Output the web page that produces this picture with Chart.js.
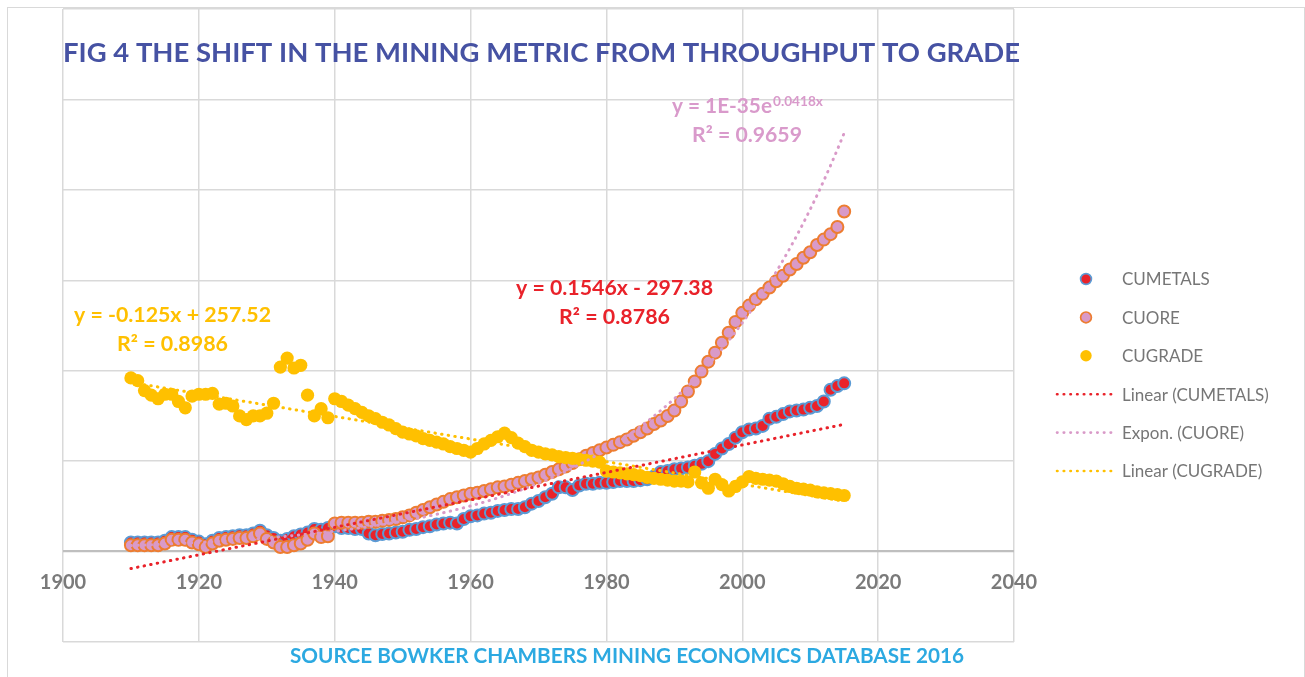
<!DOCTYPE html>
<html>
<head>
<meta charset="utf-8">
<title>Fig 4 - Mining metric shift</title>
<script src="https://cdn.jsdelivr.net/npm/chart.js@4.4.1/dist/chart.umd.min.js"></script>
<style>
    html, body { margin: 0; padding: 0; background: #fff; overflow: hidden; }
    .frame { position: absolute; left: 7px; top: 7px; width: 1296px; height: 700px; border: 1px solid #d9d9d9; }
    #chart { position: absolute; left: 0; top: 0; }
</style>
</head>
<body>
<div class="frame"></div>
<canvas id="chart" width="1305" height="677"></canvas>
<script>
// ============================================
// FIG 4 - copper metal, ore and grade 1910-2015
// ============================================

const years = [
    1910, 1911, 1912, 1913, 1914, 1915, 1916, 1917, 1918, 1919,
    1920, 1921, 1922, 1923, 1924, 1925, 1926, 1927, 1928, 1929,
    1930, 1931, 1932, 1933, 1934, 1935, 1936, 1937, 1938, 1939,
    1940, 1941, 1942, 1943, 1944, 1945, 1946, 1947, 1948, 1949,
    1950, 1951, 1952, 1953, 1954, 1955, 1956, 1957, 1958, 1959,
    1960, 1961, 1962, 1963, 1964, 1965, 1966, 1967, 1968, 1969,
    1970, 1971, 1972, 1973, 1974, 1975, 1976, 1977, 1978, 1979,
    1980, 1981, 1982, 1983, 1984, 1985, 1986, 1987, 1988, 1989,
    1990, 1991, 1992, 1993, 1994, 1995, 1996, 1997, 1998, 1999,
    2000, 2001, 2002, 2003, 2004, 2005, 2006, 2007, 2008, 2009,
    2010, 2011, 2012, 2013, 2014, 2015
];

const cuMetals = [
    1.0, 1.0, 1.0, 1.0, 1.0, 1.2, 1.6, 1.6, 1.6, 1.3,
    1.1, 0.8, 1.2, 1.5, 1.6, 1.7, 1.8, 1.8, 2.0, 2.3,
    1.8, 1.5, 1.2, 1.4, 1.7, 1.9, 2.1, 2.5, 2.4, 2.6,
    2.8, 2.6, 2.6, 2.5, 2.5, 2.0, 1.8, 1.95, 2.0, 2.1,
    2.2, 2.4, 2.5, 2.7, 2.8, 3.0, 3.1, 3.2, 3.1, 3.6,
    3.9, 4.0, 4.2, 4.3, 4.5, 4.6, 4.7, 4.7, 4.9, 5.3,
    5.6, 6.0, 6.4, 7.1, 7.1, 6.8, 7.3, 7.5, 7.5, 7.6,
    7.6, 7.7, 7.8, 7.8, 7.8, 7.9, 8.0, 8.3, 8.8, 8.9,
    9.1, 9.2, 9.3, 9.5, 9.7, 10.0, 10.8, 11.4, 11.9, 12.6,
    13.2, 13.5, 13.6, 13.9, 14.7, 14.9, 15.2, 15.5, 15.6, 15.7,
    15.9, 16.1, 16.6, 17.9, 18.3, 18.6
];

const cuOre = [
    0.7, 0.7, 0.7, 0.7, 0.7, 0.9, 1.3, 1.3, 1.3, 1.0,
    0.8, 0.5, 0.9, 1.2, 1.3, 1.4, 1.5, 1.5, 1.7, 2.0,
    1.4, 1.0, 0.5, 0.5, 0.7, 0.9, 1.3, 2.0, 1.6, 1.7,
    3.1, 3.2, 3.2, 3.2, 3.2, 3.3, 3.3, 3.4, 3.5, 3.6,
    3.8, 4.0, 4.3, 4.6, 4.9, 5.2, 5.5, 5.8, 6.0, 6.2,
    6.4, 6.5, 6.7, 6.9, 7.1, 7.2, 7.4, 7.6, 7.8, 8.0,
    8.2, 8.5, 8.8, 9.1, 9.4, 9.8, 10.2, 10.6, 10.9, 11.2,
    11.5, 11.8, 12.1, 12.4, 12.8, 13.2, 13.6, 14.1, 14.5, 15.0,
    15.6, 16.6, 17.7, 18.8, 19.9, 21.0, 22.0, 23.1, 24.2, 25.4,
    26.4, 27.2, 27.9, 28.5, 29.2, 29.9, 30.5, 31.2, 31.8, 32.5,
    33.1, 33.9, 34.5, 35.1, 35.9, 37.6
];

const cuGrade = [
    19.2, 18.9, 17.8, 17.3, 16.9, 17.4, 17.4, 16.6, 15.9, 17.2,
    17.4, 17.4, 17.5, 16.3, 16.4, 16.1, 15.0, 14.6, 15.0, 15.0,
    15.3, 16.4, 20.4, 21.4, 20.3, 20.6, 17.3, 15.0, 15.8, 14.8,
    16.9, 16.6, 16.2, 15.8, 15.4, 15.0, 14.7, 14.3, 14.0, 13.6,
    13.2, 13.0, 12.8, 12.5, 12.3, 12.1, 11.9, 11.6, 11.4, 11.2,
    11.0, 11.4, 11.9, 12.3, 12.7, 13.1, 12.6, 12.0, 11.6, 11.2,
    11.0, 10.8, 10.7, 10.5, 10.4, 10.3, 10.2, 10.1, 10.0, 9.9,
    8.9, 8.8, 8.7, 8.6, 8.5, 8.4, 8.2, 8.1, 8.0, 7.9,
    7.8, 7.8, 7.7, 8.8, 7.6, 7.0, 8.0, 7.4, 6.7, 7.2,
    7.7, 8.3, 8.1, 8.0, 7.9, 7.8, 7.5, 7.2, 7.0, 6.9,
    6.8, 6.6, 6.5, 6.4, 6.3, 6.2
];

const seriesNames = ['CUMETALS', 'CUORE', 'CUGRADE'];
const trendNames = ['Linear (CUMETALS)', 'Expon. (CUORE)', 'Linear (CUGRADE)'];

const X_MIN = 1900, X_MAX = 2040, X_STEP = 20;
const Y_MIN = -10, Y_MAX = 60, Y_STEP = 10;

const TITLE = 'FIG 4 THE SHIFT IN THE MINING METRIC FROM THROUGHPUT TO GRADE';
const SOURCE = 'SOURCE BOWKER CHAMBERS MINING ECONOMICS DATABASE 2016';

const COLORS = {
    red: '#E9222A',
    blue: '#5B9BD5',
    pink: '#D99AC8',
    orange: '#ED7D31',
    gold: '#FFC000',
    pinkText: '#D99ACB',
    title: '#4652A3',
    source: '#2CA9E1',
    grid: '#D9D9D9',
    zero: '#BFBFBF',
    tick: '#7A7A7A',
    legend: '#767676'
};

// ---------- least squares trend lines (as Excel does) ----------
function linearFit(xs, ys) {
    const n = xs.length;
    let sx = 0, sy = 0, sxx = 0, sxy = 0;
    for (let i = 0; i < n; i++) {
        sx += xs[i]; sy += ys[i];
        sxx += xs[i] * xs[i]; sxy += xs[i] * ys[i];
    }
    const slope = (n * sxy - sx * sy) / (n * sxx - sx * sx);
    const intercept = (sy - slope * sx) / n;
    return { slope, intercept };
}

function linearTrend(xs, ys) {
    const fit = linearFit(xs, ys);
    const ends = [xs[0], xs[xs.length - 1]];
    return ends.map(x => ({ x, y: fit.intercept + fit.slope * x }));
}

function exponTrend(xs, ys) {
    const fit = linearFit(xs, ys.map(v => Math.log(v)));
    return xs.map(x => ({ x, y: Math.exp(fit.intercept + fit.slope * x) }));
}

function toPoints(xs, ys) {
    return xs.map((x, i) => ({ x, y: ys[i] }));
}

function markerSet(label, values, fill, border, borderWidth, order) {
    return {
        type: 'scatter',
        label,
        data: toPoints(years, values),
        backgroundColor: fill,
        borderColor: border,
        borderWidth,
        pointRadius: borderWidth ? 6.0 : 6.6,
        pointHoverRadius: 6.6,
        order
    };
}

function trendSet(label, points, color) {
    return {
        type: 'line',
        label,
        data: points,
        borderColor: color,
        borderWidth: 3,
        borderDash: [0.5, 6.2],
        borderCapStyle: 'round',
        pointRadius: 0,
        fill: false,
        tension: 0,
        order: 0
    };
}

// ---------- text drawn over the plot (title, equations, source) ----------
function fitText(ctx, text, left, baseline, width) {
    const w = ctx.measureText(text).width;
    ctx.save();
    ctx.translate(left, baseline);
    ctx.scale(width / w, 1);
    ctx.textAlign = 'left';
    ctx.textBaseline = 'alphabetic';
    ctx.fillText(text, 0, 0);
    ctx.restore();
}

const textPlugin = {
    id: 'figText',
    afterDraw(chart) {
        const ctx = chart.ctx;
        ctx.save();

        ctx.fillStyle = COLORS.title;
        ctx.font = 'bold 27px Lato';
        fitText(ctx, TITLE, 63, 62, 957);

        ctx.font = 'bold 21px Lato';
        ctx.fillStyle = COLORS.gold;
        fitText(ctx, 'y = -0.125x + 257.52', 74, 322, 197);
        fitText(ctx, 'R\u00B2 = 0.8986', 117, 351, 111);

        ctx.fillStyle = COLORS.red;
        fitText(ctx, 'y = 0.1546x - 297.38', 516, 295, 197);
        fitText(ctx, 'R\u00B2 = 0.8786', 559, 324, 111);

        ctx.fillStyle = COLORS.pinkText;
        fitText(ctx, 'y = 1E-35e', 672, 113, 100);
        fitText(ctx, 'R\u00B2 = 0.9659', 692, 142, 110);
        ctx.font = 'bold 13px Lato';
        fitText(ctx, '0.0418x', 773, 106, 50);

        ctx.font = 'bold 20px Lato';
        ctx.fillStyle = COLORS.source;
        fitText(ctx, SOURCE, 290, 663, 674);

        ctx.restore();
    }
};

// ---------- legend on the right ----------
const LEGEND = { markerX: 1086, lineX1: 1057, lineX2: 1116, textX: 1122, firstRow: 279, rowGap: 38.4 };

const legendPlugin = {
    id: 'figLegend',
    afterDraw(chart) {
        const ctx = chart.ctx;
        const sets = chart.data.datasets;
        const entries = seriesNames.concat(trendNames);
        ctx.save();
        ctx.font = '17px Lato';
        ctx.textBaseline = 'middle';
        ctx.textAlign = 'left';
        entries.forEach((name, i) => {
            const ds = sets.find(d => d.label === name);
            const y = LEGEND.firstRow + i * LEGEND.rowGap;
            if (ds.type === 'scatter') {
                ctx.beginPath();
                ctx.arc(LEGEND.markerX, y, ds.borderWidth ? 5.4 : 5.7, 0, Math.PI * 2);
                ctx.fillStyle = ds.backgroundColor;
                ctx.fill();
                if (ds.borderWidth) {
                    ctx.lineWidth = 1.7;
                    ctx.strokeStyle = ds.borderColor;
                    ctx.stroke();
                }
            } else {
                ctx.beginPath();
                ctx.setLineDash(ds.borderDash);
                ctx.lineCap = 'round';
                ctx.lineWidth = 2.6;
                ctx.strokeStyle = ds.borderColor;
                ctx.moveTo(LEGEND.lineX1, y);
                ctx.lineTo(LEGEND.lineX2, y);
                ctx.stroke();
                ctx.setLineDash([]);
            }
            ctx.fillStyle = COLORS.legend;
            ctx.fillText(name, LEGEND.textX, y + 1);
        });
        ctx.restore();
    }
};

function drawChart() {
    const ctx = document.getElementById('chart').getContext('2d');

    new Chart(ctx, {
        data: {
            datasets: [
                trendSet(trendNames[0], linearTrend(years, cuMetals), COLORS.red),
                trendSet(trendNames[1], exponTrend(years, cuOre), COLORS.pink),
                trendSet(trendNames[2], linearTrend(years, cuGrade), COLORS.gold),
                markerSet(seriesNames[2], cuGrade, COLORS.gold, COLORS.gold, 0, 1),
                markerSet(seriesNames[1], cuOre, COLORS.pink, COLORS.orange, 2, 2),
                markerSet(seriesNames[0], cuMetals, COLORS.red, COLORS.blue, 2, 3)
            ]
        },
        options: {
            responsive: false,
            animation: false,
            layout: { padding: { left: 63, right: 291, top: 9, bottom: 35 } },
            plugins: {
                legend: { display: false },
                title: { display: false },
                tooltip: { enabled: false }
            },
            scales: {
                x: {
                    type: 'linear',
                    position: { y: 0 },
                    min: X_MIN,
                    max: X_MAX,
                    border: { display: false },
                    grid: { color: COLORS.grid, lineWidth: 1.5, drawTicks: false },
                    ticks: {
                        stepSize: X_STEP,
                        padding: 19,
                        color: COLORS.tick,
                        font: { family: 'Lato', size: 20, weight: 'bold' },
                        callback: v => String(v)
                    }
                },
                y: {
                    type: 'linear',
                    min: Y_MIN,
                    max: Y_MAX,
                    border: { display: false },
                    grid: {
                        drawTicks: false,
                        color: c => c.tick && c.tick.value === 0 ? COLORS.zero : COLORS.grid,
                        lineWidth: c => c.tick && c.tick.value === 0 ? 2.2 : 1.5
                    },
                    ticks: { stepSize: Y_STEP, display: false }
                }
            }
        },
        plugins: [textPlugin, legendPlugin]
    });
}

Promise.all([
    document.fonts.load('bold 20px Lato'),
    document.fonts.load('17px Lato')
]).then(drawChart, drawChart);
</script>
</body>
</html>
